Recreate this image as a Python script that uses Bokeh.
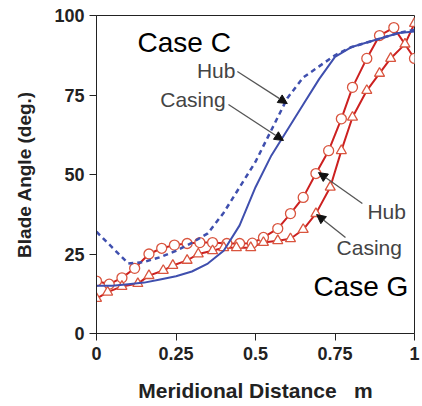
from bokeh.plotting import figure
from bokeh.models import Arrow, NormalHead, Label, FixedTicker
from bokeh.embed import file_html
from bokeh.resources import INLINE

# Case C (blue)
c_x = [0, 0.05, 0.1, 0.15, 0.2, 0.25, 0.3, 0.35, 0.4, 0.45, 0.5, 0.55, 0.6, 0.65, 0.7, 0.75, 0.8, 0.85, 0.9, 0.95, 1.0]
c_casing = [15, 15, 15.5, 16, 17, 18, 19.5, 22, 26, 34, 46, 56, 64, 72, 80, 87, 90, 91.5, 93, 94.5, 95]
c_hub = [32, 27, 22, 22.5, 24, 26, 28.5, 31.5, 38, 46, 54, 64, 74, 80.5, 84, 87.5, 90, 91.5, 93, 94.5, 95.5]

# Case G (red)
g_hub_x = [0, 0.04, 0.08, 0.12, 0.165, 0.205, 0.245, 0.285, 0.325, 0.365, 0.41, 0.45, 0.49, 0.525, 0.57,
           0.61, 0.65, 0.69, 0.73, 0.77, 0.805, 0.85, 0.89, 0.935, 1.0]
g_hub = [16.5, 15.5, 17.5, 20.5, 25, 26.8, 27.8, 28.3, 28.6, 28.6, 28.3, 28.3, 28.4, 30.2, 33,
         37.7, 42.8, 50.3, 57.5, 67.5, 77.4, 86.5, 93.7, 96.2, 86.5]
g_cas_x = [0, 0.035, 0.08, 0.13, 0.165, 0.21, 0.24, 0.285, 0.32, 0.365, 0.40, 0.44, 0.485, 0.525, 0.57,
           0.61, 0.65, 0.69, 0.735, 0.77, 0.805, 0.85, 0.89, 0.925, 0.97, 1.0]
g_casing = [11, 13, 14.8, 15.7, 18.2, 19.8, 21.4, 23, 25, 26, 27, 27, 27, 28.6, 29.2,
            29.8, 32.7, 37.7, 46, 57.5, 68, 76.4, 81.8, 86.5, 91, 97.5]

x_ticks = [0, 0.25, 0.5, 0.75, 1]
x_tick_labels = {0: "0", 0.25: "0.25", 0.5: "0.5", 0.75: "0.75", 1: "1"}
y_ticks = [0, 25, 50, 75, 100]

BLUE = "#3f4fae"
RED = "#cc2020"
MK = "#d9553f"
FONT = "Liberation Sans"

p = figure(width=420, height=404, x_range=(0, 1), y_range=(0, 100),
           output_backend="svg", toolbar_location=None,
           min_border_left=96, min_border_right=6, min_border_top=15, min_border_bottom=71)
p.grid.visible = False
p.outline_line_color = "#222222"
p.outline_line_width = 1
p.background_fill_color = "white"

for ax in (p.xaxis[0], p.yaxis[0]):
    ax.axis_line_color = "#222222"
    ax.major_tick_line_color = "#222222"
    ax.minor_tick_line_color = None
    ax.major_tick_in = 0
    ax.major_tick_out = 7
    ax.major_label_text_font = FONT
    ax.major_label_text_font_style = "bold"
    ax.major_label_text_font_size = "18px"
    ax.major_label_text_color = "#222222"
    ax.axis_label_text_font = FONT
    ax.axis_label_text_font_style = "bold"
    ax.axis_label_text_color = "#222222"

p.xaxis.axis_label_text_font_size = "21px"
p.yaxis.axis_label_text_font_size = "19px"
p.xaxis.ticker = FixedTicker(ticks=x_ticks)
p.xaxis.major_label_overrides = x_tick_labels
p.yaxis.ticker = FixedTicker(ticks=y_ticks)
p.xaxis.axis_label = "Meridional Distance\u00a0\u00a0\u00a0m"
p.yaxis.axis_label = "Blade Angle (deg.)"
p.xaxis.major_label_standoff = 6
p.yaxis.major_label_standoff = 5
p.xaxis.axis_label_standoff = 16
p.yaxis.axis_label_standoff = 16

# Case G lines + markers
p.line(g_hub_x, g_hub, line_color=RED, line_width=2)
p.line(g_cas_x, g_casing, line_color=RED, line_width=2)
p.scatter(g_hub_x, g_hub, marker="circle", size=10, line_color=MK, fill_color="white", line_width=1.3)
p.scatter(g_cas_x, g_casing, marker="triangle", size=10, line_color=MK, fill_color="white", line_width=1.3)

# Case C lines
p.line(c_x, c_casing, line_color=BLUE, line_width=2)
p.line(c_x, c_hub, line_color=BLUE, line_width=2.5, line_dash="5 4")

# Labels
def lab(x, y, t, size, color, align="left"):
    p.add_layout(Label(x=x, y=y, text=t, text_font=FONT, text_font_size=size,
                       text_color=color, text_align=align, text_baseline="middle"))

lab(0.129, 91.5, "Case C", "28px", "#000000")
lab(0.682, 14.8, "Case G", "28px", "#000000")
lab(0.437, 82.7, "Hub", "21px", "#444444", "right")
lab(0.406, 73.6, "Casing", "21px", "#444444", "right")
lab(0.852, 38.4, "Hub", "21px", "#444444")
lab(0.755, 27.0, "Casing", "21px", "#444444")

# Arrows
arrows = [((0.443, 82.4), (0.60, 72.3)),
          ((0.415, 72.0), (0.588, 60.7)),
          ((0.836, 40.9), (0.698, 50.6)),
          ((0.783, 30.2), (0.692, 37.4))]
for (x0, y0), (x1, y1) in arrows:
    p.add_layout(Arrow(x_start=x0, y_start=y0, x_end=x1, y_end=y1,
                       line_color="#555555", line_width=1.3,
                       end=NormalHead(size=9, fill_color="#111111", line_color="#111111")))

open("out.html", "w").write(file_html(p, INLINE))
